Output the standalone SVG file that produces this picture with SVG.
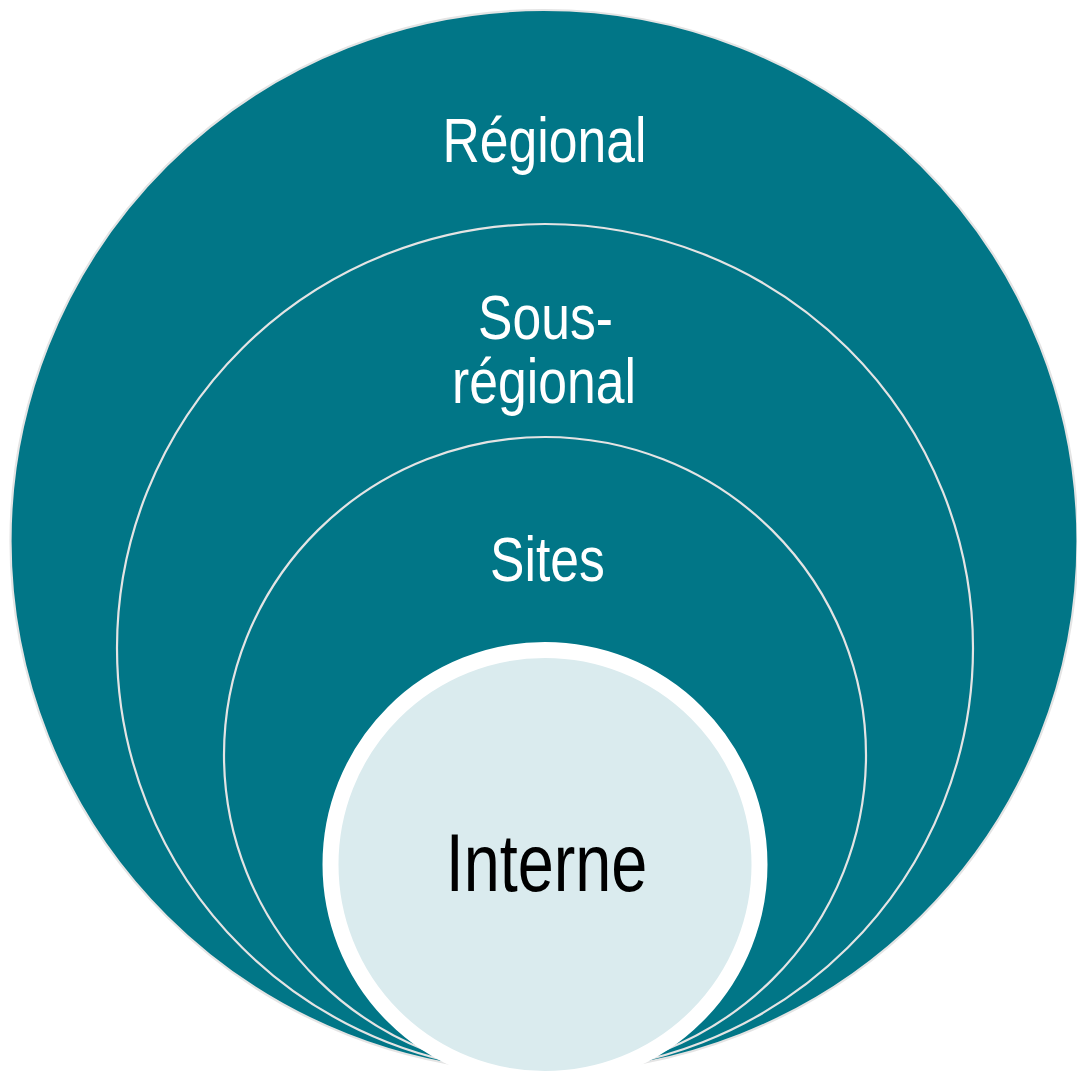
<svg xmlns="http://www.w3.org/2000/svg" width="1077" height="1074" viewBox="0 0 1077 1074">
<style>
.ring{fill:#017687;stroke:#e4e4e4;stroke-width:2.2}
.lbl{font-family:"Liberation Sans",Arial,sans-serif;font-size:63px;fill:#ffffff;text-anchor:middle}
.lblc{font-family:"Liberation Sans",Arial,sans-serif;font-size:81px;fill:#000000;text-anchor:middle}
</style>
<rect width="1077" height="1074" fill="#ffffff"/>
<g id="regional">
<ellipse class="ring" cx="544" cy="541" rx="533.5" ry="531" stroke="#dedede"/>
<text class="lbl" transform="translate(544.5,162) scale(0.82,1)">Régional</text>
</g>
<g id="sous-regional">
<ellipse class="ring" cx="545" cy="648" rx="428" ry="424"/>
<text class="lbl" transform="translate(545.5,339) scale(0.82,1)">Sous-</text>
<text class="lbl" transform="translate(544,403) scale(0.82,1)">régional</text>
</g>
<g id="sites">
<ellipse class="ring" cx="545" cy="755" rx="321" ry="318"/>
<text class="lbl" transform="translate(547.5,581) scale(0.82,1)">Sites</text>
</g>
<g id="interne">
<circle cx="545" cy="864.5" r="214.5" fill="#daebee" stroke="#ffffff" stroke-width="16"/>
<text class="lblc" transform="translate(546.5,891) scale(0.80,1)">Interne</text>
</g>
<g id="connectors"></g>
</svg>
